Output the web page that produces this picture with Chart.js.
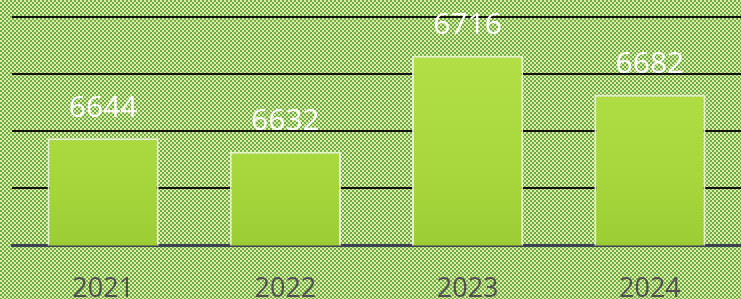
<!DOCTYPE html>
<html lang="en">
<head>
    <meta charset="UTF-8">
    <title>Yearly values</title>
    <script src="https://cdn.jsdelivr.net/npm/chart.js"></script>
    <style>
        body {
            margin: 0;
            padding: 0;
            background: #8fbf5f;
            overflow: hidden;
        }
        .wrap {
            position: relative;
            width: 741px;
            height: 299px;
        }
    </style>
</head>
<body>
    <div class="wrap">
        <canvas id="bar-chart" width="741" height="299"></canvas>
    </div>

    <script>
        const years = ["2021", "2022", "2023", "2024"];
        const values = [6644, 6632, 6716, 6682];
        const axisMin = 6550;
        const axisMax = 6750;
        const axisStep = 50;

        // checkered green backdrop, 2px squares
        function makePattern(ctx) {
            const p = document.createElement("canvas");
            p.width = 4;
            p.height = 4;
            const pc = p.getContext("2d");
            pc.fillStyle = "#72a94b";
            pc.fillRect(0, 0, 4, 4);
            pc.fillStyle = "#d8eda2";
            pc.fillRect(0, 0, 2, 2);
            pc.fillRect(2, 2, 2, 2);
            return ctx.createPattern(p, "repeat");
        }

        const backdrop = {
            id: "backdrop",
            beforeDraw(chart) {
                const c = chart.ctx;
                c.save();
                c.fillStyle = makePattern(c);
                c.fillRect(0, 0, chart.width, chart.height);
                c.restore();
            }
        };

        const valueLabels = {
            id: "valueLabels",
            afterDatasetsDraw(chart) {
                const c = chart.ctx;
                const meta = chart.getDatasetMeta(0);
                c.save();
                c.fillStyle = "#ffffff";
                c.font = "30px 'Open Sans'";
                c.textAlign = "center";
                c.textBaseline = "middle";
                meta.data.forEach((bar, i) => {
                    c.fillText(String(values[i]), bar.x, bar.y - 30);
                });
                c.restore();
            }
        };

        const ctx = document.getElementById("bar-chart").getContext("2d");
        const grad = ctx.createLinearGradient(0, 40, 0, 245);
        grad.addColorStop(0, "#b4e048");
        grad.addColorStop(0.7, "#a6d63c");
        grad.addColorStop(1, "#9ccd34");

        new Chart(ctx, {
            type: "bar",
            data: {
                labels: years,
                datasets: [{
                    data: values,
                    backgroundColor: grad,
                    borderColor: "rgba(235, 245, 215, 0.9)",
                    borderWidth: 2,
                    barPercentage: 0.61,
                    categoryPercentage: 1
                }]
            },
            options: {
                responsive: false,
                animation: false,
                layout: {
                    padding: { left: 12, right: 0, top: 17, bottom: -27 }
                },
                plugins: {
                    legend: { display: false },
                    tooltip: { enabled: false }
                },
                scales: {
                    x: {
                        grid: { display: false },
                        border: { display: true, color: "#3c4050", width: 3 },
                        ticks: {
                            color: "#505050",
                            font: { family: "'Open Sans'", size: 27 },
                            padding: 20
                        }
                    },
                    y: {
                        min: axisMin,
                        max: axisMax,
                        ticks: { display: false, stepSize: axisStep },
                        border: { display: false },
                        grid: { color: "#111111", lineWidth: 2, drawTicks: false }
                    }
                }
            },
            plugins: [backdrop, valueLabels]
        });
    </script>
</body>
</html>
